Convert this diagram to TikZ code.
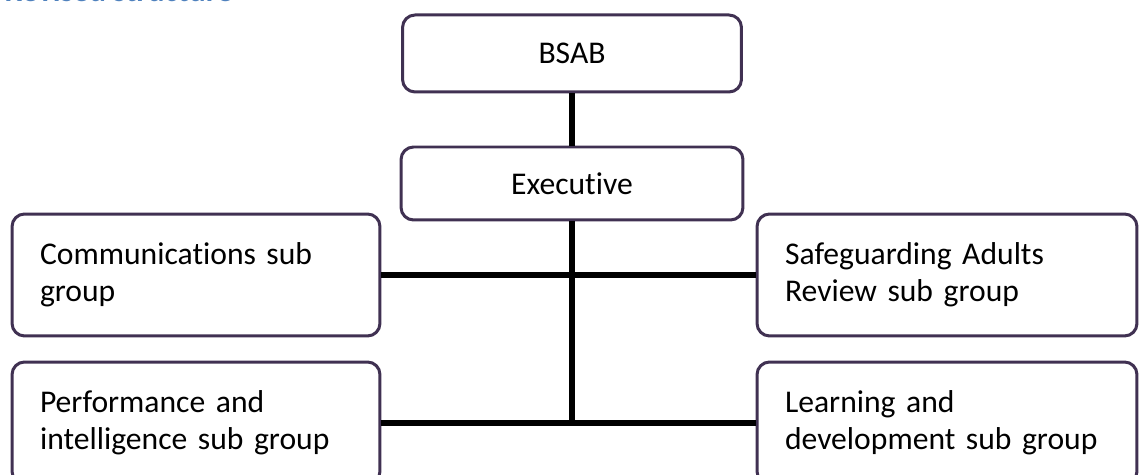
\documentclass[tikz,border=0pt]{standalone}
\usepackage{fontspec}
\setmainfont{Carlito}[Ligatures={NoCommon}]
\definecolor{boxpurple}{RGB}{64,49,82}
\definecolor{headblue}{RGB}{79,129,189}

\tikzset{
  topbox/.style={draw=boxpurple, line width=0.06cm, rounded corners=0.25cm, inner sep=0pt},
  subbox/.style={draw=boxpurple, line width=0.06cm, rounded corners=0.25cm,
    minimum width=7.36cm, minimum height=2.44cm, text width=6.24cm,
    align=left, inner xsep=0.56cm, inner ysep=0pt},
  widebox/.style={subbox, minimum width=7.6cm, text width=6.48cm},
  link/.style={line width=0.11cm}
}

\begin{document}
\begin{tikzpicture}[x=0.02cm, y=-0.02cm]

\def\width{1139}
\def\height{475}
\def\mx{572}
\def\lx{196}
\def\rx{947}

\fontsize{18}{21.2}\selectfont
\useasboundingbox (0,0) rectangle (\width,\height);
\clip (0,0) rectangle (\width,\height);

% HEADING
\node [anchor=base east, inner sep=0pt, text=headblue, font=\bfseries] (head) at (233,2) {Revised structure};

% BOARD
\node [topbox, minimum width=6.78cm, minimum height=1.54cm] (bsab) at (\mx,53.5) {BSAB};
\node [topbox, minimum width=6.84cm, minimum height=1.46cm] (exec) at (\mx,183.5) {Executive};

% SUB GROUPS
\node [subbox] (comm) at (\lx,275) {Communications sub\\group};
\node [subbox] (perf) at (\lx,423) {Performance and\\intelligence sub group};
\node [widebox] (sar) at (\rx,275) {Safeguarding Adults\\Review sub group};
\node [widebox] (learn) at (\rx,423) {Learning and\\development sub group};

% LINKS
\coordinate (spine) at (exec |- perf.east);
\draw [link] (bsab) -- (exec);
\draw [link] (exec) -- (spine);
\draw [link] (comm) -- (sar);
\draw [link] (perf) -- (learn);

\end{tikzpicture}
\end{document}
